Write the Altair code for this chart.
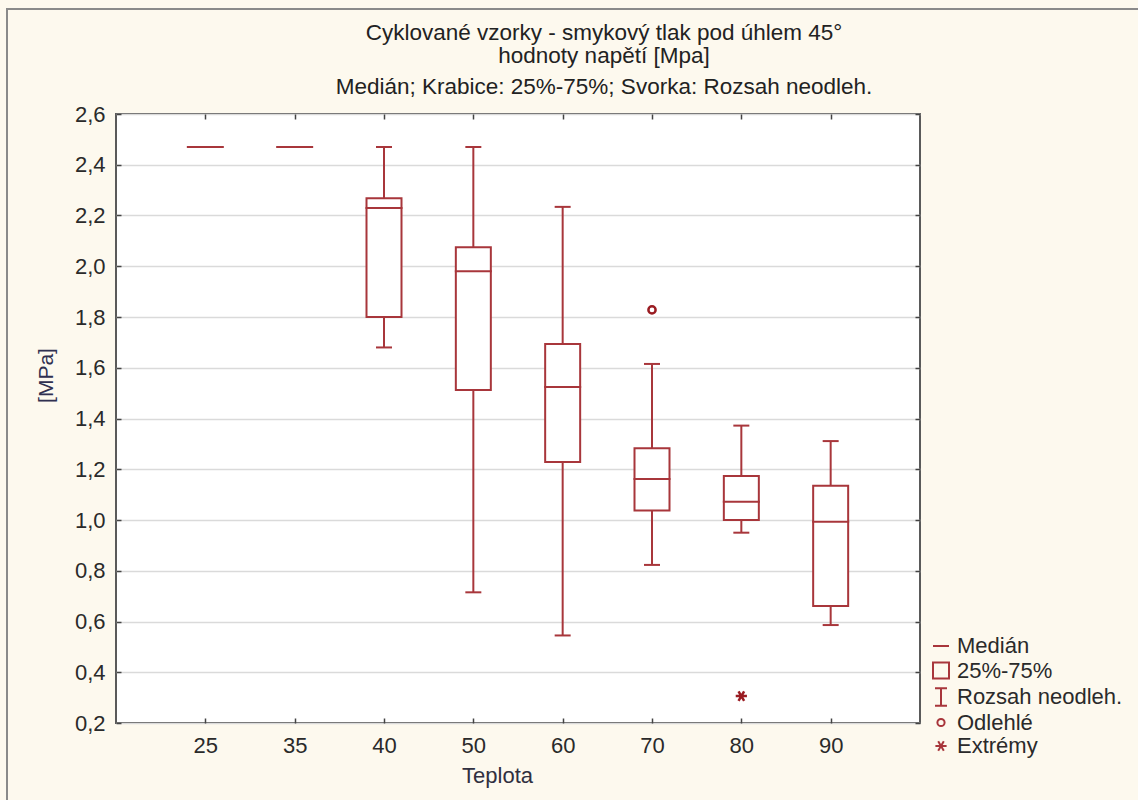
import altair as alt
import pandas as pd

# ---- data ----
temps = ["25", "35", "40", "50", "60", "70", "80", "90"]
whisker_low = [2.47, 2.47, 1.68, 0.715, 0.545, 0.823, 0.95, 0.586]
q1 = [2.47, 2.47, 1.80, 1.512, 1.229, 1.037, 1.00, 0.661]
median = [2.47, 2.47, 2.23, 1.98, 1.524, 1.162, 1.072, 0.993]
q3 = [2.47, 2.47, 2.268, 2.075, 1.694, 1.283, 1.173, 1.135]
whisker_high = [2.47, 2.47, 2.47, 2.47, 2.234, 1.615, 1.372, 1.311]

point_temps = ["70", "80"]
point_values = [1.828, 0.306]
point_kinds = ["Odlehlé", "Extrémy"]

legend_labels = ["Medián", "25%-75%", "Rozsah neodleh.", "Odlehlé", "Extrémy"]
legend_paths = [
    "M-1,0H1",
    "M-1,-1H1V1H-1Z",
    "M-0.75,-1.1H0.75M0,-1.1V1.1M-0.75,1.1H0.75",
    "M0.45,0A0.45,0.45,0,1,1,-0.45,0A0.45,0.45,0,1,1,0.45,0Z",
    "M-0.7,0H0.7M-0.35,-0.6L0.35,0.6M0.35,-0.6L-0.35,0.6",
]

title_lines = [
    "Cyklované vzorky - smykový tlak pod úhlem 45°",
    "hodnoty napětí [Mpa]",
    "Medián; Krabice: 25%-75%; Svorka: Rozsah neodleh.",
]
y_ticks = [0.2, 0.4, 0.6, 0.8, 1.0, 1.2, 1.4, 1.6, 1.8, 2.0, 2.2, 2.4, 2.6]

df = pd.DataFrame({
    "temp": temps, "lo": whisker_low, "q1": q1, "med": median,
    "q3": q3, "hi": whisker_high,
})
pts = pd.DataFrame({"temp": point_temps, "value": point_values, "kind": point_kinds})

RED = "#A8363B"
FONT = "Liberation Sans"
W, H = 804, 609

xscale = alt.Scale(type="point", domain=temps, padding=1)
yscale = alt.Scale(domain=[0.2, 2.6], nice=False, zero=False)
label_expr = "replace(format(datum.value, '.1f'), '.', ',')"

base = alt.Chart(df)

# main axes on the box layer
boxes = base.mark_bar(size=35, fill="white", stroke=RED, strokeWidth=2, opacity=1).encode(
    x=alt.X("temp:O", scale=xscale, sort=temps,
            axis=alt.Axis(title="Teplota", labelAngle=0, ticks=False, domain=False,
                          labelFont=FONT, labelFontSize=22, labelColor="#2A2A2A",
                          labelPadding=12, titleFont=FONT, titleFontSize=22,
                          titleFontWeight="normal", titleColor="#303040",
                          titlePadding=9, titleX=381)),
    y=alt.Y("q1:Q", scale=yscale,
            axis=alt.Axis(title="[MPa]", values=y_ticks, labelExpr=label_expr,
                          ticks=False, domain=False, grid=True,
                          gridColor="#DADADA", gridWidth=1.5,
                          labelFont=FONT, labelFontSize=22, labelColor="#2A2A2A",
                          labelPadding=11, titleFont=FONT, titleFontSize=21,
                          titleFontWeight="normal", titleColor="#303050",
                          titlePadding=18, titleY=261)),
    y2="q3:Q",
)

# inward ticks (bottom & left) via opposite-oriented axes shifted across the plot
whisk_lo = base.mark_rule(color=RED, strokeWidth=2, opacity=1).encode(
    x=alt.X("temp:O", scale=xscale, sort=temps,
            axis=alt.Axis(orient="top", offset=-H, labels=False, title=None,
                          domain=False, grid=False, tickSize=5, tickColor="#444",
                          tickWidth=1.5)),
    y=alt.Y("lo:Q", scale=yscale,
            axis=alt.Axis(orient="right", offset=-W, values=y_ticks, labels=False,
                          title=None, domain=False, grid=False, tickSize=5,
                          tickColor="#444", tickWidth=1.5)),
    y2="q1:Q",
)
# inward ticks (top & right)
whisk_hi = base.mark_rule(color=RED, strokeWidth=2, opacity=1).encode(
    x=alt.X("temp:O", scale=xscale, sort=temps,
            axis=alt.Axis(orient="bottom", offset=-H, labels=False, title=None,
                          domain=False, grid=False, tickSize=5, tickColor="#444",
                          tickWidth=1.5)),
    y=alt.Y("q3:Q", scale=yscale,
            axis=alt.Axis(orient="left", offset=-W, values=y_ticks, labels=False,
                          title=None, domain=False, grid=False, tickSize=5,
                          tickColor="#444", tickWidth=1.5)),
    y2="hi:Q",
)

cap_lo = base.mark_tick(orient="horizontal", size=16, thickness=2, color=RED,
                        opacity=1).encode(
    x=alt.X("temp:O", scale=xscale, sort=temps, axis=None),
    y=alt.Y("lo:Q", scale=yscale, axis=None),
)
cap_hi = base.mark_tick(orient="horizontal", size=16, thickness=2, color=RED,
                        opacity=1).encode(
    x=alt.X("temp:O", scale=xscale, sort=temps, axis=None),
    y=alt.Y("hi:Q", scale=yscale, axis=None),
)
med = base.mark_tick(orient="horizontal", size=37, thickness=2, color=RED,
                     opacity=1).encode(
    x=alt.X("temp:O", scale=xscale, sort=temps, axis=None),
    y=alt.Y("med:Q", scale=yscale, axis=None),
)

points = alt.Chart(pts).mark_point(filled=False, color="#9A1C22", strokeWidth=2.5,
                                   size=256, opacity=1).encode(
    x=alt.X("temp:O", scale=xscale, sort=temps, axis=None),
    y=alt.Y("value:Q", scale=yscale, axis=None),
    shape=alt.Shape("kind:N", scale=alt.Scale(domain=legend_labels, range=legend_paths),
                    legend=alt.Legend(title=None, orient="none", legendX=814, legendY=521,
                                      labelFont=FONT, labelFontSize=22,
                                      labelColor="#2A2A2A", labelLimit=300,
                                      labelOffset=5, rowPadding=1.5, padding=0,
                                      symbolSize=256, symbolStrokeWidth=2,
                                      symbolStrokeColor=RED)),
)

frame = alt.Chart(alt.Data(values=[{}])).mark_rect(
    fill=None, stroke="#8A8A8A", strokeWidth=2
).encode(x=alt.value(-109), x2=alt.value(1100), y=alt.value(-105), y2=alt.value(760))

title_y = [-81, -58, -27]
titles = [
    alt.Chart(alt.Data(values=[{}])).mark_text(
        font=FONT, fontSize=22.5, color="#222222", align="center", baseline="middle"
    ).encode(x=alt.value(488), y=alt.value(ty), text=alt.value(t))
    for t, ty in zip(title_lines, title_y)
]

chart = alt.layer(
    frame, boxes, whisk_lo, whisk_hi, cap_lo, cap_hi, med, points, *titles
).resolve_axis(x="independent", y="independent").properties(
    width=W, height=H,
    autosize=alt.AutoSizeParams(type="none"),
    padding={"left": 116, "top": 114, "right": 218, "bottom": 77},
    background="#FDF9EE",
).configure_view(fill="white", stroke="#5A5A5A", strokeWidth=2)

chart.save("out.html", embed_options={"renderer": "svg", "actions": False})
